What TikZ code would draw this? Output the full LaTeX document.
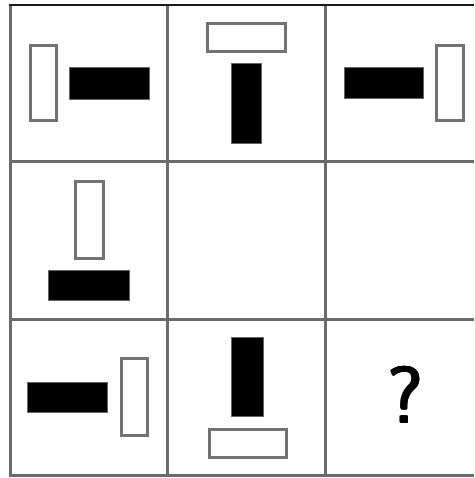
\documentclass[tikz,border=0pt]{standalone}
\tikzset{
  gridline/.style={draw=black!58, line width=3pt},
  hollowbox/.style={draw=black!55, line width=2.6pt, fill=white},
  solidbox/.style={draw=black!60, line width=1pt, fill=black},
  qmark/.style={font=\sffamily\fontsize{80}{80}\selectfont, inner sep=0pt, anchor=south},
}
\begin{document}
\begin{tikzpicture}[x=1pt,y=-1pt]
\useasboundingbox (0,0) rectangle (474,478);
\fill[white] (0,0) rectangle (474,478);
% grid
\draw[gridline] (10,162) -- (474,162);
\draw[gridline] (10,319) -- (474,319);
\draw[gridline] (10,475) -- (474,475);
\draw[gridline] (10,5) -- (10,476.5);
\draw[gridline] (167.5,5) -- (167.5,476.5);
\draw[gridline] (325,5) -- (325,476.5);
\draw[black!90, line width=2pt] (8.5,5) -- (474,5);
% shapes (outer edges inset by half line width)
\draw[hollowbox] (30.3,45.3) rectangle (56.7,120.7);
\draw[solidbox] (69.5,67.5) rectangle (149.5,99.5);
\draw[hollowbox] (207.3,23.3) rectangle (285.7,51.7);
\draw[solidbox] (231.5,63.5) rectangle (261.5,143.5);
\draw[solidbox] (344.5,67.5) rectangle (423.5,98.5);
\draw[hollowbox] (436.3,45.3) rectangle (463.7,120.7);
\draw[hollowbox] (75.3,181.3) rectangle (103.7,258.7);
\draw[solidbox] (48.5,270.5) rectangle (129.5,300.5);
\draw[solidbox] (27.5,382.5) rectangle (107.5,412.5);
\draw[hollowbox] (121.3,358.3) rectangle (147.7,435.7);
\draw[solidbox] (231.5,337.5) rectangle (263.5,416.5);
\draw[hollowbox] (209.3,429.3) rectangle (286.7,457.7);
% question mark, thickened by overprinting
\foreach \dx/\dy in {-0.8/0,0.8/0,0/-0.8,0/0.8,-0.55/-0.55,0.55/0.55,-0.55/0.55,0.55/-0.55}
  \node[qmark] at (405.5+\dx,423+\dy) {?};
\node[qmark] (q) at (405.5,423) {?};
\end{tikzpicture}
\end{document}
